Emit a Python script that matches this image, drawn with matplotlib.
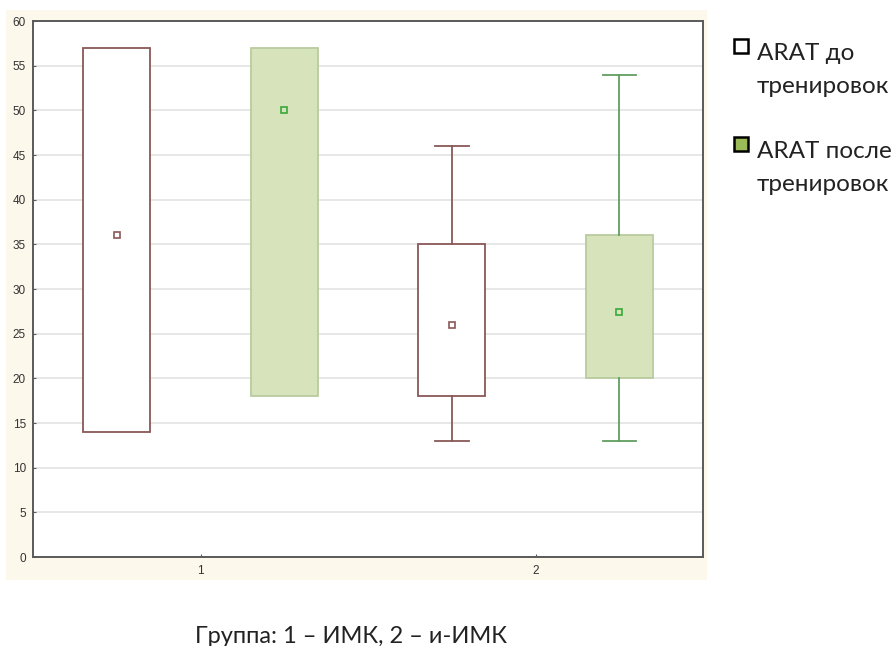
import matplotlib.pyplot as plt
from matplotlib.lines import Line2D

# Data
groups = [1, 2]
before_lo = [14, 13]
before_q1 = [14, 18]
before_q3 = [57, 35]
before_hi = [57, 46]
before_mean = [36, 26]

after_lo = [18, 13]
after_q1 = [18, 20]
after_q3 = [57, 36]
after_hi = [57, 54]
after_mean = [50, 27.4]

legend_labels = ['ARAT до\nтренировок', 'ARAT после\nтренировок']
xlabel = 'Группа: 1 – ИМК, 2 – и-ИМК'

brown = '#8a5858'
green_line = '#5f9f5f'
green_fill = '#d6e3bb'
green_edge = '#b9cb9f'


def make_stats(lo, q1, q3, hi, mean):
    return [dict(whislo=lo[i], q1=q1[i], med=mean[i], q3=q3[i], whishi=hi[i],
                 mean=mean[i], fliers=[]) for i in range(len(lo))]


def hide_flat_caps(parts):
    # caps of whiskers with zero length sit on the box edge: not drawn in the original
    for w, c in zip(parts['whiskers'], parts['caps']):
        y = w.get_ydata()
        if y[0] == y[1]:
            c.set_visible(False)


W, H = 894, 646
fig = plt.figure(figsize=(W / 100, H / 100), dpi=100)

# cream panel behind the plot
bg = fig.add_axes([6 / W, 1 - 580 / H, 701 / W, 570 / H])
bg.set_facecolor('#fdf8ec')
bg.set_xticks([])
bg.set_yticks([])
for s in bg.spines.values():
    s.set_visible(False)

ax = fig.add_axes([33 / W, 89 / H, 670 / W, 536 / H])
ax.set_facecolor('white')

pos_before = [g - 0.25 for g in groups]
pos_after = [g + 0.25 for g in groups]

p1 = ax.bxp(make_stats(before_lo, before_q1, before_q3, before_hi, before_mean),
            positions=pos_before, widths=0.2, capwidths=0.1, patch_artist=True,
            showmeans=True, showfliers=False,
            boxprops=dict(facecolor='white', edgecolor=brown, linewidth=1.3),
            whiskerprops=dict(color=brown, linewidth=1.3),
            capprops=dict(color=brown, linewidth=1.3),
            medianprops=dict(linewidth=0),
            meanprops=dict(marker='s', markersize=4.5, markerfacecolor='white',
                           markeredgecolor=brown, markeredgewidth=1.2),
            zorder=3)
p2 = ax.bxp(make_stats(after_lo, after_q1, after_q3, after_hi, after_mean),
            positions=pos_after, widths=0.2, capwidths=0.1, patch_artist=True,
            showmeans=True, showfliers=False,
            boxprops=dict(facecolor=green_fill, edgecolor=green_edge, linewidth=1.3),
            whiskerprops=dict(color=green_line, linewidth=1.3),
            capprops=dict(color=green_line, linewidth=1.3),
            medianprops=dict(linewidth=0),
            meanprops=dict(marker='s', markersize=4.5, markerfacecolor=green_fill,
                           markeredgecolor='#3aa83a', markeredgewidth=1.2),
            zorder=3)
hide_flat_caps(p1)
hide_flat_caps(p2)

ax.set_xlim(0.5, 2.5)
ax.set_ylim(0, 60)
ax.set_yticks(range(0, 61, 5))
ax.set_xticks(groups)
ax.set_xticklabels([str(g) for g in groups])
ax.yaxis.grid(True, color='#e3e3e3', linewidth=1.2, zorder=0)
ax.set_axisbelow(True)
for s in ax.spines.values():
    s.set_color('#5a5a5a')
    s.set_linewidth(1.4)
ax.tick_params(axis='both', labelsize=8.5, colors='#5a5a5a', labelcolor='#333333',
               length=2, direction='in')
ax.tick_params(axis='y', pad=5)
ax.tick_params(axis='x', pad=6)
for lbl in ax.get_xticklabels() + ax.get_yticklabels():
    lbl.set_fontfamily('Liberation Sans')

# legend drawn on the figure to the right of the plot
marker_colors = ['white', '#9bbb59']
for i, (lab, mc) in enumerate(zip(legend_labels, marker_colors)):
    base = 60 + i * 98
    fig.add_artist(Line2D([741 / W], [1 - (base - 14) / H], marker='s', markersize=10,
                          markerfacecolor=mc, markeredgecolor='black',
                          markeredgewidth=1.8, transform=fig.transFigure))
    for j, line in enumerate(lab.split('\n')):
        fig.text(757 / W, 1 - (base + j * 33) / H, line, fontsize=17.5,
                 family='Lato', color='#222222', va='baseline', ha='left')

fig.text(351 / W, 1 - 643 / H, xlabel, fontsize=17, family='Lato',
         color='#222222', ha='center', va='baseline')

fig.savefig('out.png', dpi=100)
